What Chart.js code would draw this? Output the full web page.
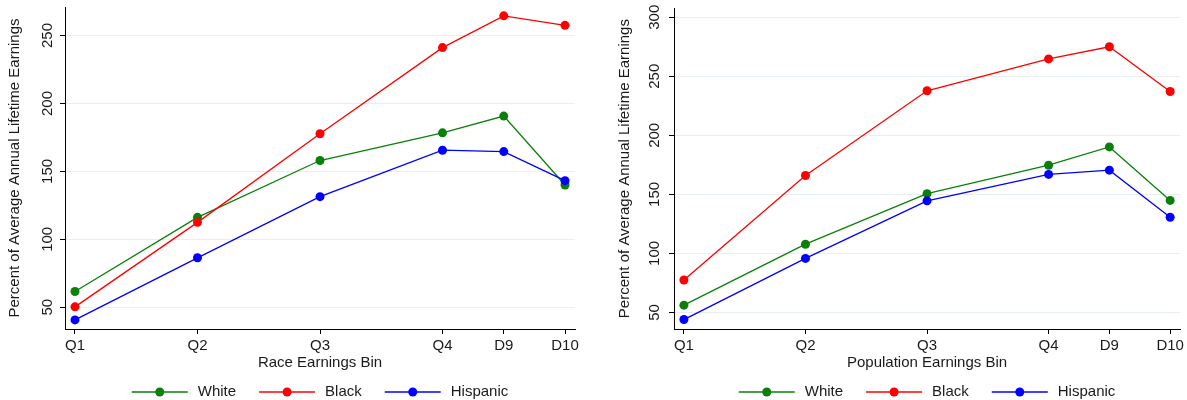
<!DOCTYPE html>
<html>
<head>
<meta charset="utf-8">
<script src="https://cdn.jsdelivr.net/npm/chart.js@4/dist/chart.umd.min.js"></script>
<style>
  html, body { margin: 0; padding: 0; background: #fff; }
  #wrap { position: relative; width: 1187px; height: 400px; }
  #race { position: absolute; left: 0; top: 0; }
  #pop { position: absolute; left: 600px; top: 0; }
</style>
</head>
<body>
<div id="wrap">
  <canvas id="race" width="600" height="400"></canvas>
  <canvas id="pop" width="587" height="400"></canvas>
</div>
<script>
// ===== dados =====
const binLabels = ['Q1', 'Q2', 'Q3', 'Q4', 'D9', 'D10'];
const binPos = [10, 30, 50, 70, 80, 90];
const seriesNames = ['White', 'Black', 'Hispanic'];
const seriesColors = ['#0a800a', '#ff0000', '#0000ff'];

const raceWhite = [61.6, 116.2, 158.0, 178.4, 190.7, 140.0];
const raceBlack = [50.3, 112.5, 177.7, 241.1, 264.5, 257.5];
const raceHispanic = [40.7, 86.4, 131.4, 165.6, 164.6, 143.2];
const raceYTicks = [50, 100, 150, 200, 250];

const popWhite = [56.2, 107.8, 150.6, 174.7, 190.2, 144.9];
const popBlack = [77.5, 166.0, 237.7, 264.7, 275.0, 237.1];
const popHispanic = [44.0, 95.8, 144.5, 166.9, 170.5, 130.6];
const popYTicks = [50, 100, 150, 200, 250, 300];

const FONT = '"Liberation Sans", Arial, Helvetica, sans-serif';
const TEXT = '#1a1a1a';

// legenda com linha + marcador (o legend padrão não faz isso)
const lineLegend = {
  id: 'lineLegend',
  afterDraw(chart) {
    const ctx = chart.ctx;
    const area = chart.chartArea;
    ctx.save();
    ctx.font = '15px ' + FONT;
    const items = chart.data.datasets.map(ds => ({
      label: ds.label,
      color: ds.borderColor,
      w: 56 + 10 + ctx.measureText(ds.label).width
    }));
    const gap = 23;
    const total = items.reduce((s, it) => s + it.w, 0) + gap * (items.length - 1);
    let x = (area.left + area.right) / 2 - total / 2;
    const y = chart.height - 8;
    items.forEach(it => {
      ctx.strokeStyle = it.color;
      ctx.lineWidth = 1.3;
      ctx.beginPath();
      ctx.moveTo(x, y);
      ctx.lineTo(x + 56, y);
      ctx.stroke();
      ctx.fillStyle = it.color;
      ctx.beginPath();
      ctx.arc(x + 28, y, 4.5, 0, Math.PI * 2);
      ctx.fill();
      ctx.fillStyle = TEXT;
      ctx.textBaseline = 'middle';
      ctx.textAlign = 'left';
      ctx.fillText(it.label, x + 66, y);
      x += it.w + gap;
    });
    ctx.restore();
  }
};

function criarGrafico(id, cfg) {
  const series = [cfg.white, cfg.black, cfg.hispanic];
  const datasets = series.map((vals, i) => ({
    label: seriesNames[i],
    data: vals.map((v, k) => ({ x: binPos[k], y: v })),
    borderColor: seriesColors[i],
    backgroundColor: seriesColors[i],
    borderWidth: 1.3,
    pointRadius: 4.5,
    pointBorderWidth: 0,
    pointHoverRadius: 4.5,
    tension: 0,
    order: 2 - i
  }));

  return new Chart(document.getElementById(id), {
    type: 'line',
    data: { datasets },
    plugins: [lineLegend],
    options: {
      responsive: false,
      animation: false,
      events: [],
      layout: { padding: { left: cfg.padLeft, top: 7, right: cfg.padRight, bottom: 30 } },
      plugins: { legend: { display: false }, tooltip: { enabled: false } },
      scales: {
        x: {
          type: 'linear',
          min: 8.37,
          max: 91.63,
          afterBuildTicks: s => { s.ticks = binPos.map(v => ({ value: v })); },
          afterFit: s => { s.height = 41; },
          ticks: {
            callback: v => binLabels[binPos.indexOf(v)],
            autoSkip: false,
            maxRotation: 0,
            padding: 3,
            color: TEXT,
            font: { family: FONT, size: 15 }
          },
          grid: { drawOnChartArea: false, tickLength: 5, tickColor: '#000' },
          border: { color: '#000', width: 1 },
          title: {
            display: true,
            text: cfg.xTitle,
            color: TEXT,
            padding: { top: 0, bottom: 0 },
            font: { family: FONT, size: 15, lineHeight: 1 }
          }
        },
        y: {
          min: cfg.yMin,
          max: cfg.yMax,
          afterBuildTicks: s => { s.ticks = cfg.yTicks.map(v => ({ value: v })); },
          afterFit: s => { s.width = cfg.yWidth; },
          ticks: {
            minRotation: 90,
            maxRotation: 90,
            crossAlign: 'center',
            padding: cfg.tickPad,
            color: TEXT,
            font: { family: FONT, size: 15, lineHeight: 0.9 }
          },
          grid: { color: '#e8eff0', lineWidth: 1, tickLength: 5, tickColor: '#000' },
          border: { color: '#000', width: 1 },
          title: {
            display: true,
            text: 'Percent of Average Annual Lifetime Earnings',
            color: TEXT,
            padding: { top: 4, bottom: 4 },
            font: { family: FONT, size: 15 }
          }
        }
      }
    }
  });
}

document.addEventListener('DOMContentLoaded', () => {
  criarGrafico('race', {
    white: raceWhite, black: raceBlack, hispanic: raceHispanic,
    yTicks: raceYTicks, yMin: 34, yMax: 271,
    xTitle: 'Race Earnings Bin',
    padLeft: 2, padRight: 25, yWidth: 63, tickPad: 0
  });
  criarGrafico('pop', {
    white: popWhite, black: popBlack, hispanic: popHispanic,
    yTicks: popYTicks, yMin: 36, yMax: 307.6,
    xTitle: 'Population Earnings Bin',
    padLeft: 12, padRight: 3, yWidth: 62, tickPad: 1.5
  });
});
</script>
</body>
</html>
